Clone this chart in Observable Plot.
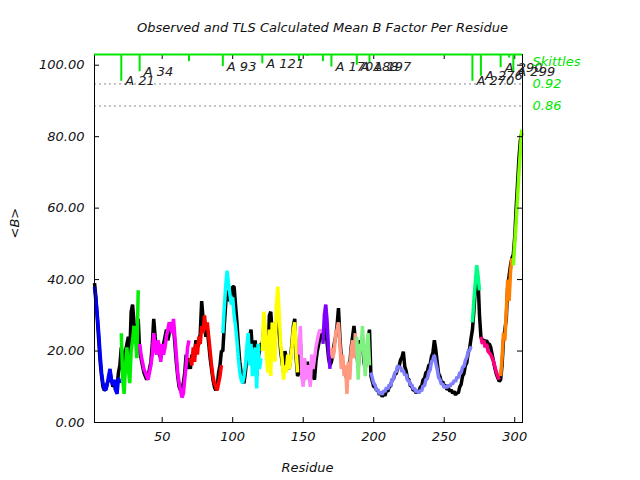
<!DOCTYPE html>
<html><head><meta charset="utf-8">
<script src="https://cdn.jsdelivr.net/npm/d3@7"></script>
<script src="https://cdn.jsdelivr.net/npm/@observablehq/plot@0.6"></script>
<style>body{margin:0;background:#fff;}</style>
</head><body><div id="chart"></div>
<script>
// Segment start residues and colours (TLS groups)
const segStart = [2, 21, 34, 70, 93, 121, 147, 164, 170, 188, 198, 270, 276, 290, 299];
const segColors = ["#0000ff","#00ee00","#ff00ff","#ff0000","#00ffff","#ffff00","#ff80ff","#8000ff","#ff9980","#80f080","#8080ff","#00ff80","#ff0080","#ff8000","#80ff00"];

// TLS calculated mean B per residue, one array per segment
const tls1 = [38, 34, 30, 25, 19, 14, 11, 9.5, 9, 10.5, 13, 15, 12, 10.5, 12, 9, 8, 12.5, 11];
const tls2 = [25, 12, 8, 16, 21, 15, 11, 20, 23, 27, 24, 18, 37];
const tls3 = [22, 19, 17, 15, 14, 13, 12, 14, 16, 19, 25, 21, 19, 23, 21, 17, 22, 19, 21, 24, 26, 28, 27, 25, 29, 24, 19, 14, 11, 9, 7, 8, 12, 16, 21, 23];
const tls4 = [18, 16, 21, 17, 22, 19, 24, 22, 27, 25, 30, 26, 28, 24, 20, 16, 13, 11, 10, 9, 11, 13, 16];
const tls5 = [25, 32, 38, 42.5, 39, 36, 33, 35, 30, 27, 23, 18, 14, 12, 11, 13, 16, 21, 25, 16, 22, 13, 19, 21, 9.5, 22, 15, 18];
const tls6 = [20, 31, 27, 18, 14, 26, 13, 28, 24, 17, 33, 38, 30, 22, 18, 12, 16, 14, 19, 15, 17, 21, 26, 28, 20, 14];
const tls7 = [19, 27, 13, 10, 18, 12, 16, 15, 10, 19, 15, 18, 21, 23, 25, 26, 25];
const tls8 = [22, 30, 33, 28, 20, 15];
const tls9 = [21, 18, 20, 25, 26, 28, 22, 15, 19, 13, 16, 8, 17, 12, 20, 23, 18, 25];
const tls10 = [24, 12, 22, 20, 27, 19, 13, 21, 25, 16];
const tls11 = [14, 12.5, 11, 10.5, 9, 9.2, 8, 8.6, 7.8, 8.9,
  8.6, 9.8, 9.3, 10.6, 10.2, 12, 12.2, 14, 14.2, 16,
  15.2, 15.6, 14.2, 14.6, 13.2, 13.5, 11.7, 11.8, 10.4, 10.6,
  9.3, 9.6, 8.5, 8.9, 8.2, 9, 8.8, 10.3, 10.2, 12,
  12.2, 14, 14.7, 17, 17.6, 18.9, 16.6, 14.9, 12.6, 12,
  10.7, 10.8, 9.7, 10.2, 9.7, 10.6, 10, 10.9, 10.7, 11.8,
  11.4, 12.7, 12.5, 14, 13.9, 15.5, 15.7, 17.4, 18.2, 19.9,
  20.2, 21.3];
const tls12 = [28, 34, 39, 44, 41, 37];
const tls13 = [24, 22, 23, 21, 22, 20, 19.5, 19, 18, 17, 15.5, 14, 13, 12];
const tls14 = [13, 18, 25, 23, 31, 40, 34, 42, 46];
const tls15 = [44, 50, 56, 63, 70, 76, 82];

// Observed mean B per residue, same segmentation
const obs1 = [39, 35, 29, 23, 17, 13, 10, 9, 9.5, 11, 12, 14, 12, 10, 11, 9, 10, 14, 16];
const obs2 = [21, 18, 14, 20, 22, 24, 19, 31, 33, 28, 25, 22, 29];
const obs3 = [20, 18, 16, 14, 13, 12, 13, 15, 17, 22, 29, 24, 20, 21, 19, 18, 20, 22, 24, 26, 23, 25, 28, 26, 27, 22, 17, 13, 10, 9, 10, 11, 14, 19, 15, 18];
const obs4 = [15, 19, 17, 20, 23, 21, 22, 25, 34, 29, 27, 24, 26, 22, 18, 15, 12, 10, 9, 10, 14, 16, 20];
const obs5 = [20, 27, 33, 37, 35, 34, 36, 38, 38, 33, 28, 22, 17, 14, 12, 11, 14, 18, 22, 24, 26, 20, 17, 23, 13, 18, 20, 22];
const obs6 = [22, 26, 24, 21, 17, 30, 31, 25, 27, 22, 28, 30, 26, 20, 17, 14, 20, 18, 16, 15, 18, 22, 27, 29, 18, 13];
const obs7 = [14, 22, 14, 11, 16, 13, 17, 14, 12, 15, 13, 12, 17, 20, 22, 24, 26];
const obs8 = [23, 24, 27, 22, 18, 16];
const obs9 = [17, 19, 22, 24, 27, 32, 24, 18, 17, 15, 14, 12, 15, 16, 21, 24, 27, 23];
const obs10 = [20, 15, 23, 22, 24, 17, 15, 19, 23, 26];
const obs11 = [13, 11.5, 10, 10, 9, 9, 7.8, 8.3, 7.2, 8,
  7.5, 9, 8.7, 10, 10.2, 12, 12.2, 13.5, 13.7, 15.5,
  15.7, 17.5, 18.2, 19.8, 15.7, 14.4, 12.2, 12, 10.2, 10.2,
  9, 9.2, 8.2, 8.9, 8.5, 9.9, 10.2, 12, 12.2, 14,
  14.2, 16, 16.2, 18.5, 19.6, 23, 20.5, 16.9, 13.7, 12.9,
  11.2, 11.4, 10.2, 10.4, 9.2, 9.6, 8.7, 9.1, 8.2, 8.7,
  7.7, 8.4, 8.2, 10, 10.7, 13, 13.7, 16, 16.7, 19.5,
  20.7, 23.5];
const obs12 = [26, 31, 37, 41, 40, 30];
const obs13 = [24, 23, 23, 22.5, 23, 22, 22, 21, 19, 17, 15, 13.5, 12.5, 11.5];
const obs14 = [12, 16, 23, 26, 29, 38, 41, 44, 46];
const obs15 = [47, 52, 60, 67, 74, 79, 81];

// Axis ticks
const yTicks = [0, 20, 40, 60, 80, 100];
const xTicks = [50, 100, 150, 200, 250, 300];

// Skittle markers at top (residue, lower end, label, label baseline)
const skitRes = [21, 29, 34, 69, 93, 121, 147, 153, 164, 170, 188, 197, 270, 276, 290, 296, 299];
const skitLow = [95.5, 102.7, 98.2, 101, 99.6, 100.4, 101, 102.5, 101, 99.5, 100, 100.6, 95.5, 96.9, 99.3, 102, 98];
const skitLabel = ["A 21", "", "A 34", "", "A 93", "A 121", "", "", "", "A 170", "A 188", "A 197", "A 270", "A 276", "A 290", "", "A 299"];
const skitLabelY = [95.5, 0, 98.2, 0, 99.6, 100.4, 0, 0, 0, 99.5, 99.5, 99.5, 95.5, 96.9, 99.3, 0, 98];

const thresholds = [0.92, 0.86];
const yTop = 103;

const tlsSegments = [tls1,tls2,tls3,tls4,tls5,tls6,tls7,tls8,tls9,tls10,tls11,tls12,tls13,tls14,tls15];
const obsSegments = [obs1,obs2,obs3,obs4,obs5,obs6,obs7,obs8,obs9,obs10,obs11,obs12,obs13,obs14,obs15];
const rows = [];
segStart.forEach((s, i) => {
  tlsSegments[i].forEach((v, j) => rows.push({r: s + j, tls: v, obs: obsSegments[i][j], seg: i}));
});
const skitIdx = skitRes.map((_, i) => i);
const skitLabIdx = skitIdx.filter(i => skitLabel[i] !== "");

const font = {fontFamily: "DejaVu Sans", fontStyle: "italic", fontSize: 13};
const green = "#00e600";

const chart = Plot.plot({
  width: 640, height: 480,
  marginLeft: 94, marginRight: 118, marginTop: 54, marginBottom: 58,
  x: {domain: [2, 305.5], axis: null},
  y: {domain: [0, yTop], axis: null},
  color: {type: "identity"},
  style: {fontFamily: "DejaVu Sans", fontStyle: "italic", fontSize: "13px", background: "#fff"},
  marks: [
    Plot.ruleY(thresholds, {y: d => d * yTop, stroke: "#8a8a8a", strokeDasharray: "2,3", strokeWidth: 1}),
    Plot.line(rows, {x: "r", y: "obs", stroke: "black", strokeWidth: 3.5, strokeLinejoin: "miter", strokeLinecap: "butt"}),
    Plot.line(rows, {x: "r", y: "tls", z: "seg", stroke: d => segColors[d.seg], strokeWidth: 3.5, strokeLinejoin: "miter", strokeLinecap: "butt"}),
    Plot.frame({stroke: "black"}),
    Plot.tickY(yTicks, {y: d => d, insetRight: 423, stroke: "black"}),
    Plot.tickY(yTicks, {y: d => d, insetLeft: 423, stroke: "black"}),
    Plot.tickX(xTicks, {x: d => d, insetTop: 363, stroke: "black"}),
    Plot.tickX(xTicks, {x: d => d, insetBottom: 363, stroke: "black"}),
    Plot.text(yTicks, {y: d => d, text: d => d.toFixed(2), frameAnchor: "left", dx: -10, textAnchor: "end", fill: "#111", ...font}),
    Plot.text(xTicks, {x: d => d, text: d => String(d), frameAnchor: "bottom", dy: 18, fill: "#111", ...font}),
    Plot.ruleX(skitIdx, {x: i => skitRes[i], y1: yTop, y2: i => skitLow[i], stroke: green, strokeWidth: 2}),
    Plot.ruleY([yTop], {stroke: green, strokeWidth: 2}),
    Plot.text(skitLabIdx, {x: i => skitRes[i], y: i => skitLabelY[i], text: i => skitLabel[i], dx: 4, dy: 4, textAnchor: "start", lineAnchor: "bottom", fill: "#222", ...font}),
    Plot.text(["Skittles"], {frameAnchor: "top-right", dx: 10, dy: 7, textAnchor: "start", lineAnchor: "middle", fill: green, ...font}),
    Plot.text(thresholds, {y: d => d * yTop, text: d => d.toFixed(2), frameAnchor: "right", dx: 10, textAnchor: "start", lineAnchor: "middle", fill: green, ...font}),
    Plot.text(["Observed and TLS Calculated Mean B Factor Per Residue"], {frameAnchor: "top", dx: 14, dy: -27, lineAnchor: "middle", fill: "#111", ...font}),
    Plot.text(["Residue"], {frameAnchor: "bottom", dx: -1, dy: 45, lineAnchor: "middle", fill: "#111", ...font}),
    Plot.text(["<B>"], {frameAnchor: "left", dx: -80, rotate: -90, lineAnchor: "middle", fill: "#111", ...font})
  ]
});
document.getElementById("chart").appendChild(chart);
</script>
</body></html>
